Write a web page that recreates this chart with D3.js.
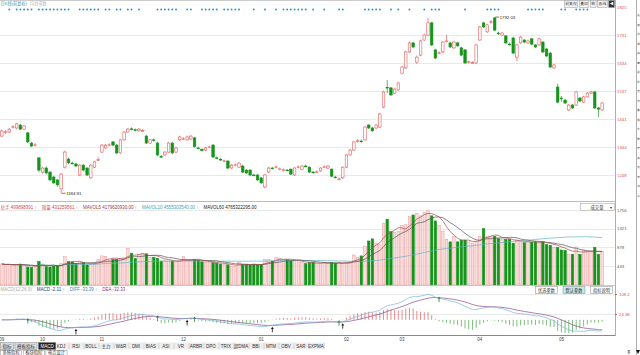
<!DOCTYPE html>
<html><head><meta charset="utf-8">
<script src="https://cdn.jsdelivr.net/npm/d3@7"></script>
<style>
html,body{margin:0;padding:0;background:#fff;overflow:hidden}
svg{display:block}
text{font-family:"Liberation Sans","Noto Sans CJK SC",sans-serif}
</style>
</head><body>
<svg id="c" width="640" height="355"></svg>
<script>
// ---------------- data ----------------
const opens=[1382,1396,1396,1412,1410,1420,1406,1393,1358,1351,
1307,1258,1272,1258,1241,1231,1200,1275,1303,1289,
1286,1248,1282,1272,1238,1275,1300,1327,1341,1350,
1362,1351,1324,1369,1396,1407,1404,1400,1400,1382,
1358,1369,1358,1312,1317,1327,1358,1327,1369,1372,
1369,1372,1376,1341,1336,1334,1344,1351,1307,1302,
1296,1296,1272,1282,1275,1279,1265,1265,1248,1248,
1238,1207,1258,1272,1275,1268,1265,1265,1268,1248,
1275,1268,1279,1275,1258,1258,1262,1275,1272,1268,
1241,1234,1238,1275,1317,1334,1365,1365,1369,1420,
1410,1410,1413,1482,1550,1548,1530,1541,1599,1617,
1672,1703,1637,1661,1713,1730,1772,1679,1668,1672,
1709,1703,1686,1703,1686,1679,1637,1634,1634,1713,
1772,1741,1775,1789,1737,1730,1727,1699,1720,1654,
1703,1713,1703,1717,1696,1696,1706,1682,1668,1617,
1551,1513,1506,1472,1489,1489,1513,1499,1517,1530,
1534,1479,1472];
const closes=[1400,1397,1406,1414,1424,1406,1417,1362,1348,1352,
1265,1272,1255,1231,1221,1214,1251,1327,1290,1288,
1279,1282,1265,1248,1282,1293,1301,1351,1351,1352,
1351,1324,1369,1396,1406,1406,1402,1406,1401,1358,
1369,1367,1317,1310,1327,1358,1324,1341,1379,1373,
1379,1382,1346,1340,1332,1341,1345,1310,1306,1300,
1297,1272,1282,1283,1289,1258,1255,1248,1247,1231,
1221,1248,1272,1271,1276,1269,1266,1263,1251,1272,
1276,1279,1278,1258,1257,1259,1272,1276,1279,1244,
1240,1235,1275,1317,1334,1362,1366,1364,1413,1410,
1400,1420,1458,1534,1548,1524,1544,1565,1620,1672,
1703,1689,1654,1710,1730,1772,1696,1651,1669,1706,
1710,1689,1706,1693,1661,1634,1638,1635,1696,1758,
1758,1765,1776,1747,1736,1737,1703,1698,1668,1696,
1723,1706,1710,1699,1689,1717,1672,1658,1620,1627,
1499,1512,1496,1489,1479,1534,1503,1517,1530,1534,
1479,1475,1496];
const highs=[1405,1403,1410,1420,1428,1424,1420,1396,1362,1358,
1310,1276,1278,1262,1245,1234,1255,1332,1308,1294,
1290,1286,1286,1275,1286,1297,1310,1355,1355,1357,
1365,1355,1372,1400,1410,1412,1408,1410,1406,1386,
1372,1373,1362,1317,1330,1362,1362,1345,1383,1378,
1384,1386,1379,1346,1340,1344,1349,1355,1312,1306,
1301,1299,1286,1287,1293,1283,1268,1268,1252,1251,
1241,1252,1276,1276,1282,1274,1271,1269,1271,1275,
1281,1282,1284,1278,1262,1264,1275,1281,1282,1271,
1245,1239,1278,1320,1338,1365,1372,1370,1417,1424,
1414,1424,1462,1538,1575,1552,1548,1569,1624,1676,
1707,1707,1660,1714,1735,1789,1776,1683,1674,1710,
1730,1707,1710,1707,1690,1682,1642,1640,1700,1762,
1776,1769,1782,1792.03,1742,1741,1730,1704,1724,1700,
1727,1716,1714,1720,1699,1721,1710,1686,1672,1631,
1562,1520,1510,1493,1493,1538,1517,1521,1534,1538,
1538,1482,1500];
const lows=[1378,1390,1392,1408,1406,1403,1402,1358,1344,1346,
1258,1252,1250,1228,1217,1208,1184.91,1270,1286,1284,
1275,1244,1261,1244,1235,1272,1296,1324,1338,1346,
1348,1320,1320,1365,1393,1402,1398,1397,1396,1355,
1355,1363,1314,1306,1313,1324,1320,1324,1365,1368,
1366,1369,1342,1336,1329,1331,1340,1306,1302,1296,
1292,1268,1269,1278,1272,1255,1251,1244,1243,1227,
1217,1201,1255,1267,1271,1264,1261,1260,1248,1245,
1271,1265,1275,1255,1253,1254,1259,1271,1269,1241,
1236,1229,1235,1272,1314,1331,1360,1359,1366,1406,
1397,1406,1410,1478,1530,1520,1527,1538,1595,1613,
1668,1685,1630,1657,1710,1726,1692,1647,1664,1668,
1705,1685,1682,1689,1657,1630,1632,1630,1630,1710,
1754,1738,1770,1744,1730,1726,1699,1694,1664,1640,
1699,1702,1699,1695,1685,1692,1668,1654,1616,1613,
1495,1500,1492,1468,1475,1486,1499,1496,1514,1527,
1475,1448,1469];
const volumes=[490,470,480,460,470,490,450,420,410,400,
550,490,430,420,440,460,500,660,550,540,
500,520,520,470,480,500,600,680,670,580,
600,600,620,640,860,743,620,700,740,730,
640,650,625,560,580,560,560,540,560,660,
590,590,590,580,540,520,530,520,510,490,
480,470,440,430,520,480,480,470,480,470,
480,590,590,560,640,620,600,590,560,570,
540,520,500,520,530,500,500,520,510,520,
510,520,500,530,550,700,650,680,900,1030,
1080,980,940,1445,1540,1250,1235,1250,1400,1410,
1600,1640,1680,1620,1700,1740,1620,1500,1400,1250,
1070,1010,1130,1010,1050,1050,1010,980,1010,1130,
1320,1130,1130,1140,1090,1070,1070,1070,980,1050,
1010,990,1010,1000,1010,980,1010,945,930,880,
880,820,811,720,720,890,720,810,770,770,
880,720,790];
const monthLabels=["09","10","11","12","01","02","03","04","05"];
const monthIndex=[0,11,27,49,70,93,108,129,151];
const priceTicks=[1825,1731,1634,1537,1441,1344,1248];
const volumeTicks=[1756,1321,878,443];
const macdTicks=[108.2,24.38];
const eventDays=[2,4,5,6,7,8,10,11,12,13,14,15,16,17,18,21,22,23,24,25,26,28,29,31,32,34,35,37,42,43,44,45,46,47,50,51,54,55,56,57,58,60,61,62,63,64,68,71,74,76,77,78,79,80,81,82,84,87,91,92,98,99,100,101,102,105,107,110,114,116,117,118,125,131,132,133,134,142,143,144,145,146,151,152,155,156,157,158];
const volHeader=[["总手 499898391 ↑","#d04a4a"],["现量 431259561 ↑","#d04a4a"],["MAVOL5 4179620930.00 ↑","#a03a3a"],["MAVOL10 4555303540.00 ↑","#3aa6b8"],["MAVOL60 4765322295.00","#222"]];
const macdHeader=[["MACD(12,26,9)","#aaa"],["MACD -2.11 ↑","#2a3a7a"],["DIFF -33.39 ↑","#3a7fc0"],["DEA -32.33","#8a3a8a"]];
const titleParts=[["日K线(前复权)","#3a9ab0"],["均线参数","#bbb"]];
const tabFirst=["指标","模板指标","MACD"];
const tabRest=["KDJ","RSI","BOLL","主力","W&R","DMI","BIAS","ASI","VR","ARBR","DPO","TRIX","超DMA","BBI","MTM","OBV","SAR","EXPMA"];
const tabRow2=["系统指标","板块指标","热点设计"];
const topButtons=["前复权","叠加","统","画线","◀"];
const macdButtons=["优选参数","默认参数","指标说明"];
const sideChars=["名","最","涨","振","换","量","总","外","内","均","委","现","今","昨","开","高","低","市","流","净"];

// ---------------- setup ----------------
const svg=d3.select("#c");
const N=closes.length;
const RIGHT=615;
const x=d3.scaleBand().domain(d3.range(N)).range([0,604]);
const cx=i=>x(i)+x.bandwidth()/2;
const bw=x.step()*0.68;
const yP=d3.scaleLinear().domain([1248,1825]).range([175,7.5]);
const yV=d3.scaleLinear().domain([443,1756]).range([266,210]);
const yM=d3.scaleLinear().domain([24.38,108.2]).range([314,294]);
const RED="#e35d5d", GREEN="#17931b";
const isUp=i=>closes[i]>=opens[i];

// frame lines
svg.append("line").attr("x1",0).attr("x2",RIGHT).attr("y1",0.5).attr("y2",0.5).attr("stroke","#ccc").attr("stroke-width",1);
svg.append("line").attr("x1",RIGHT+0.5).attr("x2",RIGHT+0.5).attr("y1",0).attr("y2",336).attr("stroke","#999").attr("stroke-width",0.8);
svg.append("line").attr("x1",636.5).attr("x2",636.5).attr("y1",0).attr("y2",355).attr("stroke","#999").attr("stroke-width",0.8);
svg.append("line").attr("x1",0).attr("x2",RIGHT).attr("y1",201.5).attr("y2",201.5).attr("stroke","#bbb");
svg.append("line").attr("x1",0).attr("x2",RIGHT).attr("y1",285.5).attr("y2",285.5).attr("stroke","#ccc");
svg.append("line").attr("x1",0).attr("x2",RIGHT).attr("y1",335.5).attr("y2",335.5).attr("stroke","#888");

// grids
const grid=(vals,scale)=>svg.append("g").selectAll("line").data(vals).join("line")
  .attr("x1",0).attr("x2",RIGHT).attr("y1",d=>Math.round(scale(d))+0.5).attr("y2",d=>Math.round(scale(d))+0.5)
  .attr("stroke","#e3e3e3").attr("stroke-width",0.8);
grid(priceTicks.slice(1),yP);
grid(volumeTicks,yV);
grid(macdTicks,yM);

// ---------------- axes ----------------
const gP=svg.append("g").attr("transform",`translate(${RIGHT},0)`)
  .call(d3.axisRight(yP).tickValues(priceTicks).tickSize(0).tickPadding(2).tickFormat(d3.format("d")));
gP.select(".domain").remove();
gP.selectAll("text").attr("fill","#d9534f").attr("font-size",4.3).attr("font-family","Liberation Sans");

const gV=svg.append("g").attr("transform",`translate(${RIGHT},0)`)
  .call(d3.axisRight(yV).tickValues(volumeTicks).tickSize(0).tickPadding(2).tickFormat(d3.format("d")));
gV.select(".domain").remove();
gV.selectAll("text").attr("fill","#555").attr("font-size",4.3).attr("font-family","Liberation Sans");

const gM=svg.append("g").attr("transform",`translate(${RIGHT},0)`)
  .call(d3.axisRight(yM).tickValues(macdTicks).tickSize(2).tickPadding(2).tickFormat(d=>String(d)));
gM.select(".domain").remove();
gM.selectAll("line").attr("stroke","#d9534f");
gM.selectAll("text").attr("fill","#d9534f").attr("font-size",4.3).attr("font-family","Liberation Sans");

const gX=svg.append("g").attr("transform","translate(0,335.5)")
  .call(d3.axisBottom(x).tickValues(monthIndex).tickSize(0).tickPadding(2.5).tickFormat((d,i)=>monthLabels[i]));
gX.select(".domain").remove();
gX.selectAll("text").attr("fill","#444").attr("font-size",4.5).attr("font-family","Liberation Sans");

// ---------------- price panel ----------------
(function(){
  let xx=0.5;
  titleParts.forEach(([t,c])=>{
    const tx=svg.append("text").attr("x",xx).attr("y",5).attr("font-size",4.2).attr("fill",c).text(t);
    xx+=tx.node().getComputedTextLength()+3;
  });
})();

svg.append("g").selectAll("circle").data(eventDays).join("circle")
  .attr("cx",d=>cx(d)).attr("cy",9.5).attr("r",0.95).attr("fill","#2f8fbf");

const cg=svg.append("g").selectAll("g").data(d3.range(N)).join("g");
cg.append("line").attr("x1",cx).attr("x2",cx)
  .attr("y1",i=>yP(highs[i])).attr("y2",i=>yP(lows[i]))
  .attr("stroke",i=>isUp(i)?RED:GREEN).attr("stroke-width",0.7);
cg.append("rect")
  .attr("x",i=>cx(i)-bw/2).attr("width",bw)
  .attr("y",i=>yP(Math.max(opens[i],closes[i])))
  .attr("height",i=>Math.max(0.7,yP(Math.min(opens[i],closes[i]))-yP(Math.max(opens[i],closes[i]))))
  .attr("fill",i=>isUp(i)?"#fff":GREEN)
  .attr("stroke",i=>isUp(i)?RED:GREEN).attr("stroke-width",0.6);

// high / low labels
const hi=d3.maxIndex(highs), lo=d3.minIndex(lows);
[[hi,highs[hi]],[lo,lows[lo]]].forEach(([i,v])=>{
  const yy=yP(v);
  svg.append("line").attr("x1",cx(i)+0.5).attr("x2",cx(i)+4.5).attr("y1",yy).attr("y2",yy).attr("stroke","#222").attr("stroke-width",0.6);
  svg.append("text").attr("x",cx(i)+5).attr("y",yy).attr("dy","0.35em").attr("font-size",4.3).attr("fill","#222").text(d3.format(".2f")(v));
});

// top right buttons
(function(){
  const g=svg.append("g");
  let right=RIGHT;
  const items=topButtons.slice().reverse();
  items.forEach((t,k)=>{
    const tx=g.append("text").attr("font-size",3.8).attr("fill",k===0?"#fff":"#444").attr("y",5.2).text(t);
    const w=tx.node().getComputedTextLength()+3;
    const x0=right-w;
    g.insert("rect","text").attr("x",x0+0.5).attr("y",0.5).attr("width",w-1).attr("height",7)
      .attr("fill",k===0?"#333":"#f4f4f4").attr("stroke","#999").attr("stroke-width",0.5);
    tx.attr("x",x0+1.5);
    right=x0-0.5;
  });
})();

// ---------------- volume panel ----------------
(function(){
  let xx=0.5;
  volHeader.forEach(([t,c])=>{
    const tx=svg.append("text").attr("x",xx).attr("y",208.5).attr("font-size",4.5).attr("fill",c).text(t);
    xx+=tx.node().getComputedTextLength()+5;
  });
  svg.append("rect").attr("x",580.5).attr("y",203.5).attr("width",34).attr("height",7).attr("fill","#fff").attr("stroke","#999").attr("stroke-width",0.5);
  svg.append("text").attr("x",597).attr("y",208.7).attr("text-anchor","middle").attr("font-size",4.3).attr("fill","#333").text("成交量");
  svg.append("text").attr("x",611).attr("y",208.7).attr("text-anchor","middle").attr("font-size",4).attr("fill","#333").text("▾");
})();

svg.append("g").selectAll("rect").data(d3.range(N)).join("rect")
  .attr("x",i=>cx(i)-bw/2).attr("width",bw)
  .attr("y",i=>yV(volumes[i])).attr("height",i=>yV(0)-yV(volumes[i]))
  .attr("fill",i=>isUp(i)?"#fbdcdc":GREEN)
  .attr("stroke",i=>isUp(i)?"#eb9a9a":GREEN).attr("stroke-width",0.5);

const maN=(arr,n)=>arr.map((_,i)=>d3.mean(arr.slice(Math.max(0,i-n+1),i+1)));
const vline=d3.line().x((d,i)=>cx(i)).y(d=>yV(d));
[[maN(volumes,60),"#5cb8c8"],[maN(volumes,10),"#555"],[maN(volumes,5),"#a0484a"]].forEach(([s,c])=>{
  svg.append("path").attr("d",vline(s)).attr("fill","none").attr("stroke",c).attr("stroke-width",0.7);
});

// ---------------- MACD panel ----------------
(function(){
  let xx=0.5;
  macdHeader.forEach(([t,c])=>{
    const tx=svg.append("text").attr("x",xx).attr("y",291).attr("font-size",4.5).attr("fill",c).text(t);
    xx+=tx.node().getComputedTextLength()+5;
  });
  let bx=535;
  macdButtons.forEach((t,k)=>{
    svg.append("rect").attr("x",bx+0.5).attr("y",286.5).attr("width",22).attr("height",7)
      .attr("fill",k===1?"#bfe9f4":"#fff").attr("stroke","#888").attr("stroke-width",0.5);
    svg.append("text").attr("x",bx+11.5).attr("y",291.6).attr("text-anchor","middle").attr("font-size",4.2).attr("fill","#333").text(t);
    bx+=27.5;
  });
})();

const ema=(arr,n)=>{const k=2/(n+1);const out=[];arr.forEach((v,i)=>out.push(i===0?v:out[i-1]+k*(v-out[i-1])));return out;};
const e12=ema(closes,12), e26=ema(closes,26);
const diff=closes.map((_,i)=>e12[i]-e26[i]);
const dea=ema(diff,9);
const macd=diff.map((d,i)=>2*(d-dea[i]));

svg.append("g").selectAll("line").data(d3.range(N)).join("line")
  .attr("x1",cx).attr("x2",cx).attr("y1",yM(0)).attr("y2",i=>yM(macd[i]))
  .attr("stroke",i=>macd[i]>=0?"#e56b6b":"#5aae5a").attr("stroke-width",0.8);

const mline=d3.line().x((d,i)=>cx(i)).y(d=>yM(d));
svg.append("path").attr("d",mline(dea)).attr("fill","none").attr("stroke","#8a4a8a").attr("stroke-width",0.7);
svg.append("path").attr("d",mline(diff)).attr("fill","none").attr("stroke","#78b4dc").attr("stroke-width",0.7);

// cross markers
const arrow=(g,xc,y0,col)=>{
  g.append("path").attr("d",`M${xc},${y0}L${xc-1.4},${y0+2.2}L${xc+1.4},${y0+2.2}Z`).attr("fill",col);
  g.append("line").attr("x1",xc).attr("x2",xc).attr("y1",y0+2).attr("y2",y0+5.5).attr("stroke",col).attr("stroke-width",0.8);
};
const mg=svg.append("g");
for(let i=3;i<N;i++){
  const a=diff[i-1]-dea[i-1], b=diff[i]-dea[i];
  if(a<=0&&b>0) arrow(mg,cx(i),yM(diff[i])+1.5,"#111");
  if(a>=0&&b<0) arrow(mg,cx(i),yM(diff[i])-2,"#2a8a2a");
}

// ---------------- bottom tabs ----------------
(function(){
  const g=svg.append("g");
  g.append("rect").attr("x",0).attr("y",342.5).attr("width",325).attr("height",7).attr("fill","#eee");
  let xx=0;
  tabFirst.forEach((t,k)=>{
    const tx=g.append("text").attr("y",347.7).attr("font-size",4.5).attr("fill",k===2?"#fff":"#333").text(t);
    const w=tx.node().getComputedTextLength()+4;
    g.insert("rect","text").attr("x",xx+0.5).attr("y",342.5).attr("width",w).attr("height",7)
      .attr("fill",k===2?"#222":"#ddd").attr("stroke","#888").attr("stroke-width",0.5);
    tx.attr("x",xx+2.5);
    xx+=w+1.5;
  });
  const tb=d3.scaleBand().domain(tabRest).range([53.5,323.5]);
  g.selectAll(".tr").data(tabRest).join("text").attr("class","tr")
    .attr("x",d=>tb(d)+tb.bandwidth()/2).attr("y",347.7).attr("text-anchor","middle")
    .attr("font-size",4.5).attr("fill","#333").text(d=>d);
  g.selectAll(".ts").data(tabRest).join("line").attr("class","ts")
    .attr("x1",d=>tb(d)+tb.bandwidth()+0.5).attr("x2",d=>tb(d)+tb.bandwidth()+0.5)
    .attr("y1",343).attr("y2",349).attr("stroke","#bbb").attr("stroke-width",0.5);
  let x2=0;
  tabRow2.forEach(t=>{
    const tx=g.append("text").attr("y",354.3).attr("font-size",4.3).attr("fill","#333").text(t);
    const w=tx.node().getComputedTextLength()+4;
    g.insert("rect","text").attr("x",x2+0.5).attr("y",350.5).attr("width",w).attr("height",6)
      .attr("fill","#fff").attr("stroke","#888").attr("stroke-width",0.5);
    tx.attr("x",x2+2.5);
    x2+=w+1.5;
  });
  svg.append("path").attr("d","M636,350L640,350L638,354Z").attr("fill","#111");
  svg.append("text").attr("x",627).attr("y",354).attr("font-size",4.5).attr("fill","#333").text("⊼");
})();

// right side panel (narrow strip)
svg.append("g").selectAll("text").data(sideChars).join("text")
  .attr("x",637.2).attr("y",(d,i)=>16+i*9.5).attr("font-size",2.5).attr("fill","#333").text(d=>d);
</script>
</body></html>
